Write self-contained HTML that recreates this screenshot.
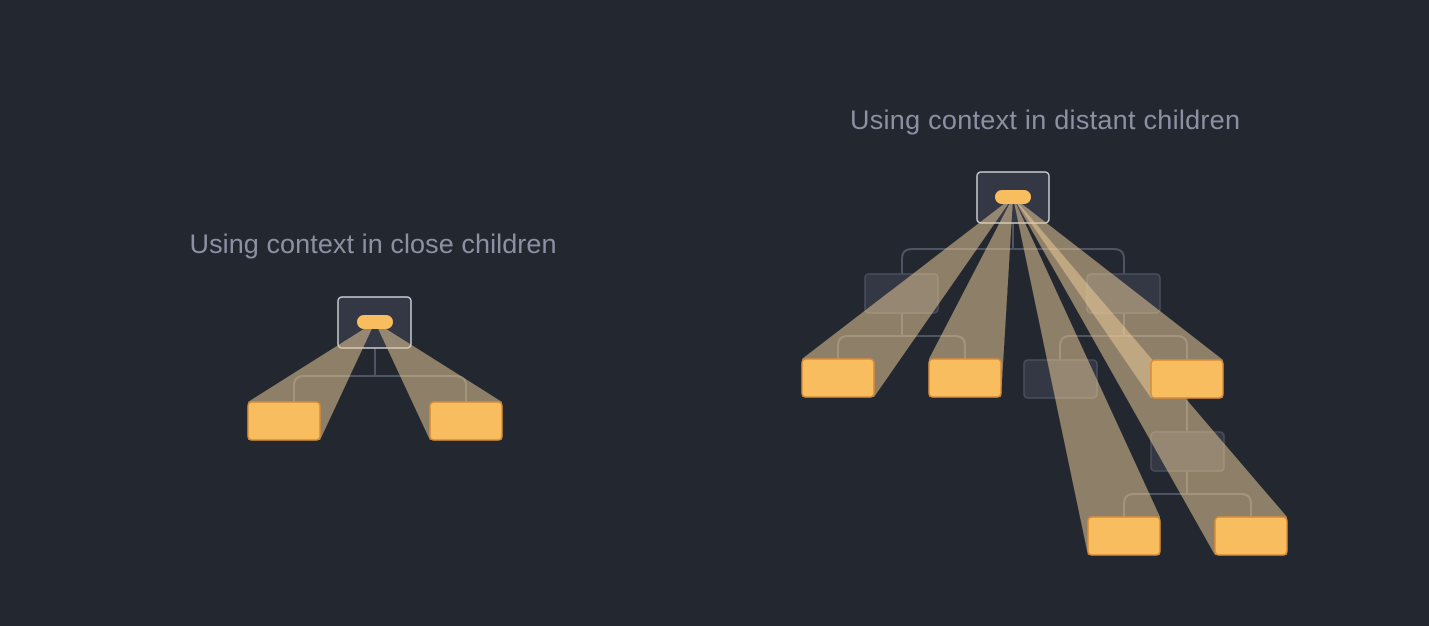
<!DOCTYPE html>
<html><head><meta charset="utf-8"><style>
html,body{margin:0;padding:0;background:#23272f;}
svg{display:block;}
text{font-family:"Liberation Sans",sans-serif;}
</style></head><body>
<svg id="d" width="1429" height="626" viewBox="0 0 1429 626">
<rect width="1429" height="626" fill="#23272f"/>
<text x="373" y="253" font-size="27" textLength="367" fill="#8b90a3" text-anchor="middle">Using context in close children</text>
<text x="1045" y="129" font-size="27" textLength="390" fill="#8b90a3" text-anchor="middle">Using context in distant children</text>
<g fill="none" stroke="#4f5463" stroke-width="2">
<path d="M375 348 V376 M294 402 V386 Q294 376 304 376 H456 Q466 376 466 386 V402"/>
<path d="M1013 223 V249 M902 274 V259 Q902 249 912 249 H1114 Q1124 249 1124 259 V274"/>
<path d="M902 313 V336 M838 359 V346 Q838 336 848 336 H955 Q965 336 965 346 V359"/>
<path d="M1124 313 V336 M1060 360 V346 Q1060 336 1070 336 H1177 Q1187 336 1187 346 V360"/>
<path d="M1187 398 V432 M1187 471 V494 M1124 517 V504 Q1124 494 1134 494 H1241 Q1251 494 1251 504 V517"/>
</g>
<g fill="#343845" stroke="#4a4f5d" stroke-width="1.5">
<rect x="865" y="274" width="73" height="39" rx="4"/>
<rect x="1087" y="274" width="73" height="39" rx="4"/>
<rect x="1024" y="360" width="73" height="38" rx="4"/>
<rect x="1151" y="432" width="73" height="39" rx="4"/>
</g>
<rect x="338" y="297" width="73" height="51" rx="4" fill="#343845" stroke="#c8cad0" stroke-width="1.5"/>
<rect x="977" y="172" width="72" height="51" rx="4" fill="#343845" stroke="#c8cad0" stroke-width="1.5"/>
<g id="beams"></g>
<g id="targets"></g>
<rect x="357" y="315" width="36" height="14" rx="7" fill="#f8bd5f"/>
<rect x="995" y="190" width="36" height="14" rx="7" fill="#f8bd5f"/>
</svg>
<script>
const NS="http://www.w3.org/2000/svg";
const sources=[[375,322],[1013,197]];
const targetX=[248,430,802,929,1151,1088,1215];
const targetY=[402,402,359,359,360,517,517];
const targetSrc=[0,0,1,1,1,1,1];
const W=72,H=38;
const beams=document.getElementById('beams'),tg=document.getElementById('targets');
targetX.forEach((x,i)=>{
  const y=targetY[i],[sx,sy]=sources[targetSrc[i]];
  const g=document.createElementNS(NS,'g');
  g.setAttribute('opacity','0.55');
  
  
  const c=[[x,y],[x+W,y],[x+W,y+H],[x,y+H]];
  for(let k=0;k<4;k++){
    const p=document.createElementNS(NS,'polygon');
    const a=c[k],b=c[(k+1)%4];
    p.setAttribute('points',`${sx},${sy} ${a[0]},${a[1]} ${b[0]},${b[1]}`);
    p.setAttribute('fill','#e7c997');
    
    
    g.appendChild(p);
  }
  beams.appendChild(g);
  const r=document.createElementNS(NS,'rect');
  r.setAttribute('x',x);r.setAttribute('y',y);r.setAttribute('width',W);r.setAttribute('height',H);
  r.setAttribute('rx',4);r.setAttribute('fill','#f8bd5f');r.setAttribute('stroke','#d98b36');r.setAttribute('stroke-width','1.5');
  
  
  tg.appendChild(r);
});
</script>
</body></html>
